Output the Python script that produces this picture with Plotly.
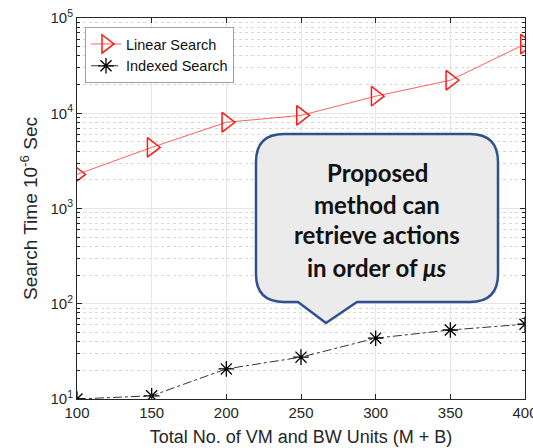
import plotly.graph_objects as go

units = [100, 150, 200, 250, 300, 350, 400]
linear_search = [2280, 4380, 8040, 9500, 15100, 22200, 53200]
indexed_search = [10, 10.8, 20.7, 27.5, 43.5, 53, 61]
y_tick_vals = [10, 100, 1000, 10000, 100000]
y_tick_text = ["10<sup>1</sup>", "10<sup>2</sup>", "10<sup>3</sup>", "10<sup>4</sup>", "10<sup>5</sup>"]
callout_lines = ["<b>Proposed</b>", "<b>method can</b>", "<b>retrieve actions</b>", "<b>in order of <i>μs</i></b>"]

W, H = 533, 448
ML, MR, MT, MB = 77, 8, 18, 49
PW, PH = W - ML - MR, H - MT - MB

def px(x):
    return (x - ML) / PW

def py(y):
    return (H - MB - y) / PH

fig = go.Figure()
fig.add_trace(go.Scatter(
    x=units, y=linear_search, name="Linear Search", mode="lines+markers",
    line=dict(color="#ff6060", width=1),
    marker=dict(symbol="triangle-right-open", size=17, color="#ff1a1a", line=dict(width=1.5, color="#ff1a1a")),
))
fig.add_trace(go.Scatter(
    x=units, y=indexed_search, name="Indexed Search", mode="lines+markers",
    line=dict(color="#333333", width=1, dash="dashdot"),
    marker=dict(symbol="asterisk-open", size=13, color="#000000", line=dict(width=1.3, color="#000000")),
))

# callout shape (pixel geometry converted to paper)
L, R, T, B, r = 256, 498, 134, 302, 28
tipx, tipy, b1, b2 = 326, 323, 298, 357
def P(x, y):
    return f"{px(x):.5f},{py(y):.5f}"
path = (f"M {P(L+r,T)} L {P(R-r,T)} Q {P(R,T)} {P(R,T+r)} L {P(R,B-r)} Q {P(R,B)} {P(R-r,B)} "
        f"L {P(b2,B)} L {P(tipx,tipy)} L {P(b1,B)} L {P(L+r,B)} Q {P(L,B)} {P(L,B-r)} "
        f"L {P(L,T+r)} Q {P(L,T)} {P(L+r,T)} Z")
fig.add_shape(type="path", xref="paper", yref="paper", path=path,
              fillcolor="#ebebeb", line=dict(color="#2f528f", width=2.5), layer="above")

line_y = [172, 204, 235, 267]
for txt, yy in zip(callout_lines, line_y):
    fig.add_annotation(xref="paper", yref="paper", x=px(377), y=py(yy), text=txt,
                       showarrow=False, xanchor="center", yanchor="middle",
                       font=dict(family="Lato", size=24, color="#111111"))

axis_common = dict(showline=True, linecolor="#262626", linewidth=1, mirror="ticks",
                   ticks="inside", tickcolor="#262626", ticklen=5, automargin=False,
                   tickfont=dict(family="Liberation Sans", size=15, color="#262626"),
                   showgrid=True, gridcolor="#e6e6e6", gridwidth=1, zeroline=False)

fig.update_xaxes(range=[100, 400], tickvals=units, ticklabeloverflow="allow",
                 title=dict(text="Total No. of VM and BW Units (M + B)", standoff=10,
                            font=dict(family="Liberation Sans", size=18, color="#262626")),
                 **axis_common)
fig.update_yaxes(type="log", range=[1, 5], tickvals=y_tick_vals, ticktext=y_tick_text,
                 title=dict(text="Search Time 10<sup>-6</sup> Sec", standoff=7,
                            font=dict(family="Liberation Sans", size=19, color="#262626")),
                 minor=dict(dtick="D1", showgrid=True, gridcolor="#d8d8d8", griddash="dot",
                            gridwidth=1, ticks="inside", ticklen=3, tickcolor="#262626"),
                 **axis_common)

fig.update_layout(
    width=W, height=H, margin=dict(l=ML, r=MR, t=MT, b=MB, autoexpand=False),
    plot_bgcolor="white", paper_bgcolor="white",
    legend=dict(x=px(85), y=py(27), xanchor="left", yanchor="top",
                bgcolor="white", bordercolor="#a0a0a0", borderwidth=1,
                font=dict(family="Liberation Sans", size=14.5, color="#111111"),
                tracegroupgap=0, itemwidth=30),
    showlegend=True,
)

fig.write_html("out.html")
